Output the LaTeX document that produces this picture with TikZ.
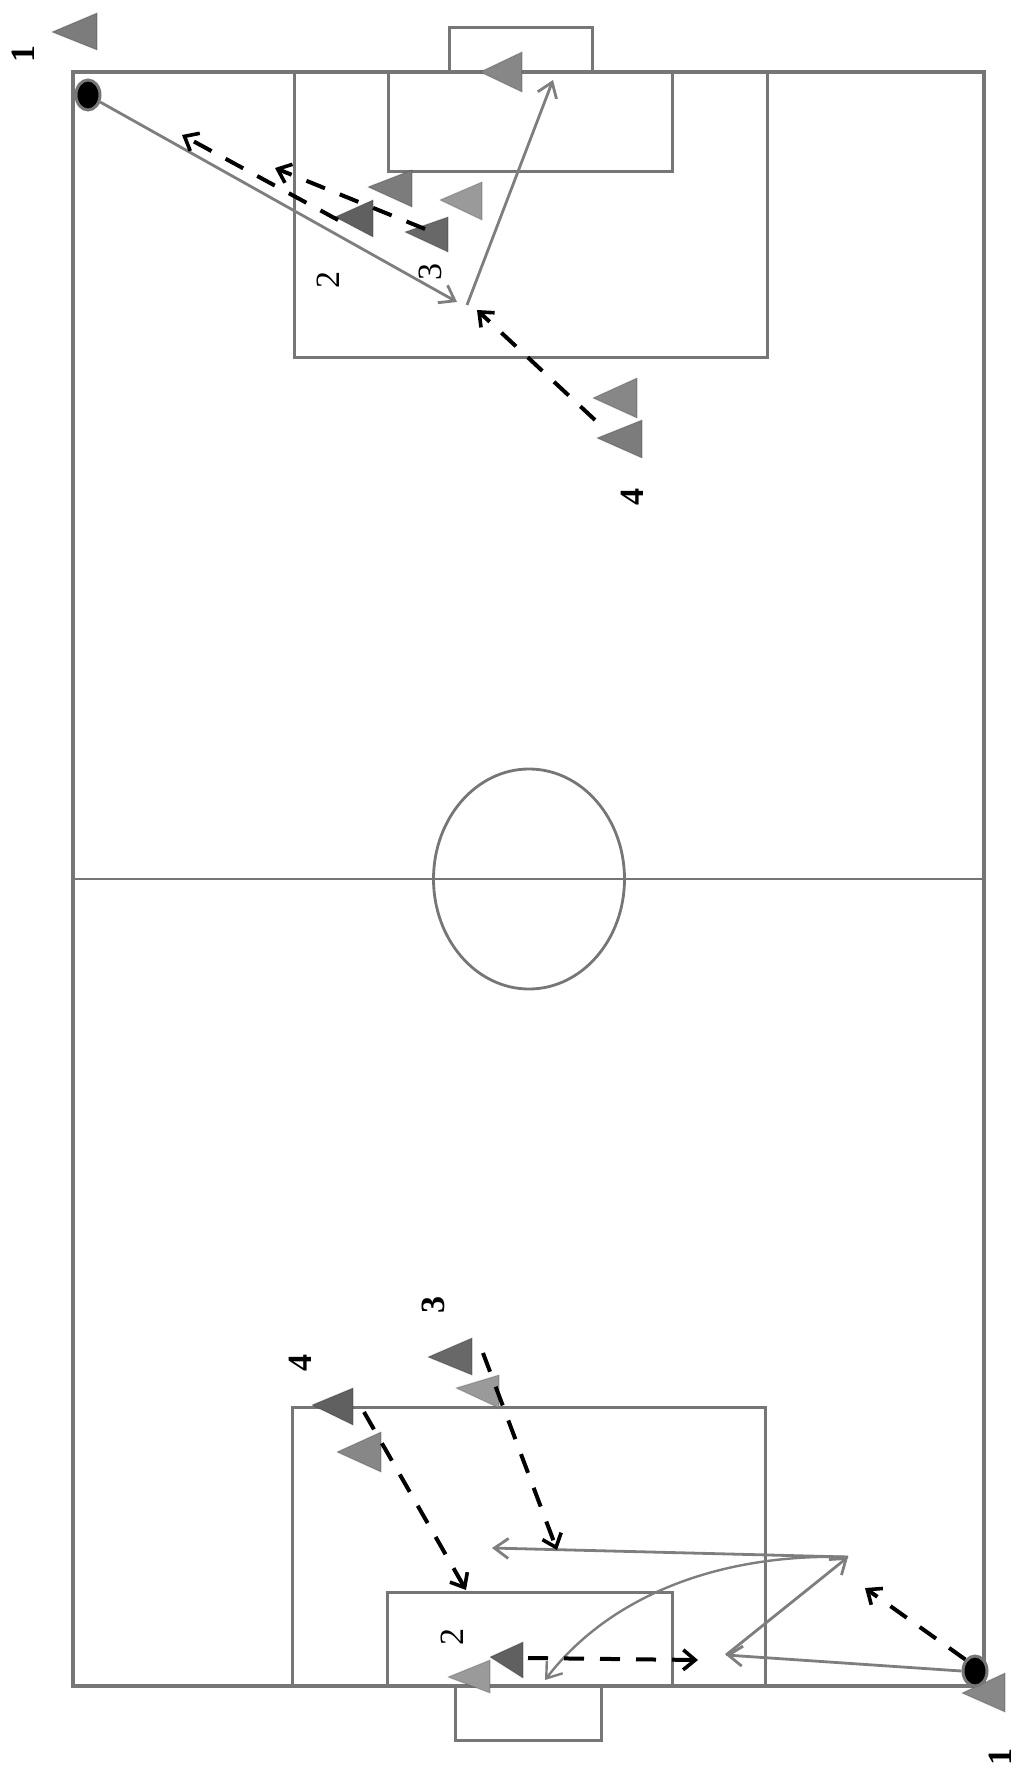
\documentclass[tikz,border=0pt]{standalone}
\usepackage{fontspec}
\setmainfont{Liberation Serif}
\usetikzlibrary{arrows.meta,shapes.geometric}
\definecolor{pitchgray}{HTML}{767676}
\definecolor{passgray}{HTML}{7E7E7E}
\definecolor{tmed}{HTML}{7C7C7C}
\definecolor{tmedl}{HTML}{878787}
\definecolor{tdark}{HTML}{606060}
\definecolor{tdarkl}{HTML}{686868}
\definecolor{tlight}{HTML}{9A9A9A}
\newcommand\plyr[6]{\fill[#6, draw=black, draw opacity=0.15, line width=0.6pt, line join=round] (#1,#2) -- (#3,#4) -- (#3,#5) -- cycle;}
\begin{document}
\begin{tikzpicture}[x=0.5pt,y=-0.5pt,
  pitchline/.style={draw=pitchgray, line width=1.8pt},
  boxline/.style={draw=pitchgray, line width=1.5pt},
  thinline/.style={draw=pitchgray, line width=0.6pt},
  pass/.style={draw=passgray, line width=1.4pt, -{Straight Barb[length=7pt,width=10pt]}},
  run/.style={draw=black, line width=2pt, dash pattern=on 10pt off 8pt, -{Straight Barb[length=6pt,width=10pt,line width=1.8pt]}},
  ballstyle/.style={ellipse, fill=black, draw=pitchgray, line width=1.5pt, minimum width=12pt, minimum height=15pt, inner sep=0pt},
  lbl/.style={rotate=90, font=\fontsize{17}{17}\selectfont, inner sep=0pt},
  lblb/.style={lbl, font=\fontsize{17}{17}\selectfont\bfseries}
]
\useasboundingbox (0,0) rectangle (1016,1775);
% pitch
\draw[pitchline] (73,72) rectangle (984,1686);
\draw[thinline] (73,879) -- (984,879);
\draw[pitchline, line width=1.4pt] (529,879) ellipse [x radius=95.5, y radius=110];
% top boxes
\draw[boxline] (294,72) rectangle (767,358);
\draw[boxline] (388,72) rectangle (672,172);
\draw[boxline] (449,72) -- (449,28) -- (592,28) -- (592,72);
% bottom boxes
\draw[boxline] (292,1686) rectangle (765,1407);
\draw[boxline] (387,1686) rectangle (672,1592);
\draw[boxline] (455,1686) -- (455,1740) -- (601,1740) -- (601,1686);

% ===== top half players =====
\plyr{52}{32}{97}{13}{50}{tmed}
\plyr{480}{72}{522}{52}{92}{tmedl}
\plyr{368}{187}{412}{170}{207}{tmed}
\plyr{440}{200}{482}{182}{220}{tlight}
\plyr{335}{217}{373}{200}{237}{tdark}
\plyr{405}{232}{448}{217}{252}{tdarkl}
\plyr{593}{398}{637}{378}{418}{tmedl}
\plyr{597}{438}{642}{420}{458}{tmed}

% top coordinates
\node[ballstyle] (ballA) at (88,95) {};
\coordinate (pA1) at (457,302);
\coordinate (pA2) at (467,305);
\coordinate (gA) at (553,80);
\coordinate (rA1s) at (338,220);
\coordinate (rA1e) at (182,135);
\coordinate (rA2s) at (425,229);
\coordinate (rA2e) at (275,168);
\coordinate (rA3s) at (595,420);
\coordinate (rA3e) at (477,310);

\draw[pass] (ballA.-30) -- (pA1);
\draw[pass] (pA2) -- (gA);
\draw[run] (rA1s) -- (rA1e);
\draw[run] (rA2s) -- (rA2e);
\draw[run] (rA3s) -- (rA3e);

\node[lblb] (l1a) at (23,54) {1};
\node[lbl] (l2a) at (328,280) {2};
\node[lbl] (l3a) at (430,272) {3};
\node[lblb] (l4a) at (632,497) {4};

% ===== bottom half players =====
\plyr{428}{1357}{472}{1338}{1375}{tdarkl}
\plyr{456}{1388}{499}{1375}{1408}{tlight}
\plyr{312}{1405}{353}{1388}{1425}{tdark}
\plyr{337}{1452}{381}{1432}{1472}{tmedl}
\plyr{448}{1677}{490}{1660}{1693}{tlight}
\plyr{490}{1657}{523}{1642}{1678}{tdark}
\plyr{962}{1693}{1005}{1673}{1712}{tmedl}

\node[ballstyle] (ballB) at (975,1671) {};
\coordinate (pB1) at (726,1655);
\coordinate (pB2) at (848,1557);
\coordinate (pB3) at (492,1548);
\coordinate (gB) at (545,1680);
\coordinate (rB1s) at (483,1353);
\coordinate (rB1e) at (557,1550);
\coordinate (rB2s) at (364,1412);
\coordinate (rB2e) at (466,1590);
\coordinate (rB3s) at (528,1658);
\coordinate (rB3e) at (698,1660);
\coordinate (rB4e) at (865,1588);

\draw[run] (ballB.130) -- (rB4e);
\draw[pass] (ballB.180) -- (pB1);
\draw[pass] (pB1) -- (pB2);
\draw[pass] (pB2) -- (pB3);
\draw[pass, line width=1.2pt] (pB2) .. controls (700,1553) and (600,1608) .. (gB);
\draw[run] (rB1s) -- (rB1e);
\draw[run] (rB2s) -- (rB2e);
\draw[run] (rB3s) -- (rB3e);

\node[lblb] (l3b) at (433,1305) {3};
\node[lblb] (l4b) at (300,1363) {4};
\node[lbl] (l2b) at (452,1637) {2};
\node[lblb] (l1b) at (1000,1757) {1};
\end{tikzpicture}
\end{document}
